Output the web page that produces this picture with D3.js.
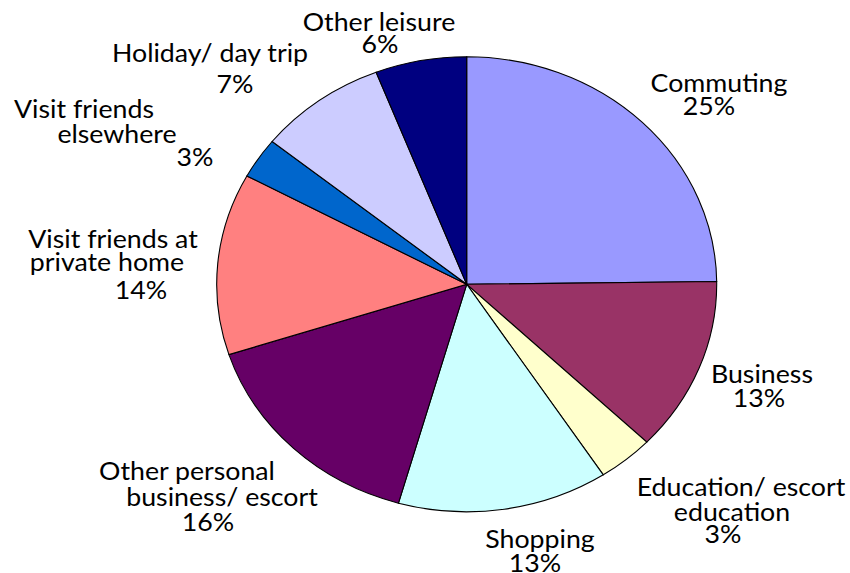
<!DOCTYPE html>
<html lang="en">
<head>
    <meta charset="UTF-8">
    <title>Trip purposes</title>
    <script src="https://d3js.org/d3.v7.min.js"></script>
    <style>
        body { margin: 0; background: #fff; }
        .slice { stroke: #000; stroke-width: 1.1px; vector-effect: non-scaling-stroke; }
        .label { font-family: Lato, 'Open Sans', sans-serif; font-size: 24.3px; fill: #000; }
    </style>
</head>
<body>
<script>
    // slices clockwise from 12 o'clock
    var categories = ["Commuting", "Business", "Education/ escort education", "Shopping",
        "Other personal business/ escort", "Visit friends at private home",
        "Visit friends elsewhere", "Holiday/ day trip", "Other leisure"];
    var shares = [24.8, 12.4, 3.6, 13.6, 15.6, 12.9, 2.9, 8.3, 5.9];
    var pctLabels = ["25%", "13%", "3%", "13%", "16%", "14%", "3%", "7%", "6%"];
    var colors = ["#9999ff", "#993366", "#ffffcc", "#ccffff", "#660066",
        "#ff8080", "#0066cc", "#ccccff", "#000080"];

    // label text lines for each slice (last line = percent)
    var labelLines = [
        ["Commuting"], ["Business"], ["Education/ escort", "education"], ["Shopping"],
        ["Other personal", "business/ escort"], ["Visit friends at", "private home"],
        ["Visit friends", "elsewhere"], ["Holiday/ day trip"], ["Other leisure"]
    ];
    // layout: [centre x, baseline y] for every line of each label
    var labelPos = [
        [[719, 92], [709, 115]],
        [[762, 383], [759, 407]],
        [[741, 496], [732, 521], [723, 543]],
        [[540, 548], [535, 572]],
        [[187, 480], [222, 506], [208, 531]],
        [[113, 248], [107, 271], [141, 299]],
        [[84, 118], [117, 143], [195, 166]],
        [[210, 62], [235, 93]],
        [[379, 31], [380, 53]]
    ];

    var width = 850, height = 573;
    var cx = 466.7, cy = 284.3, ry = 227.5, stretch = 250 / 227.5;

    var svg = d3.select("body").append("svg")
        .attr("width", width)
        .attr("height", height);

    var pie = d3.pie().sort(null).value(function(d) { return d; });
    var arc = d3.arc().innerRadius(0).outerRadius(ry);

    var g = svg.append("g")
        .attr("transform", "translate(" + cx + "," + cy + ") scale(" + stretch + ",1)");

    g.selectAll("path")
        .data(pie(shares))
        .enter()
        .append("path")
        .attr("class", "slice")
        .attr("d", arc)
        .attr("fill", function(d, i) { return colors[i]; });

    // labels
    categories.forEach(function(c, i) {
        var lines = labelLines[i].concat([pctLabels[i]]);
        lines.forEach(function(t, j) {
            var p = labelPos[i][j];
            svg.append("text")
                .attr("class", "label")
                .attr("text-anchor", "middle")
                .attr("transform", "translate(" + p[0] + "," + p[1] + ") scale(1.1,1)")
                .text(t);
        });
    });
</script>
</body>
</html>
